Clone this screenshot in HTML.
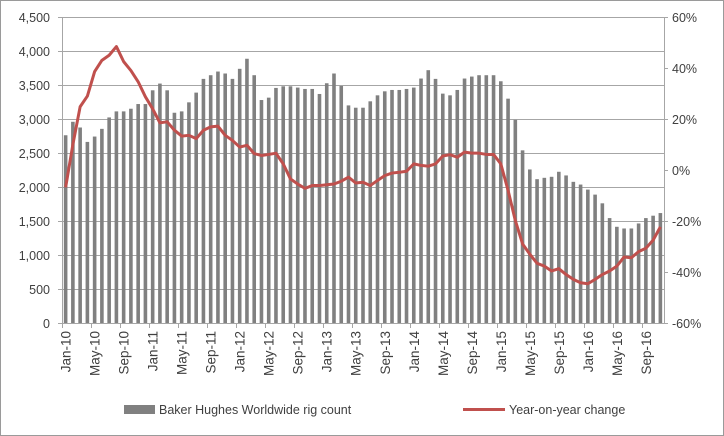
<!DOCTYPE html>
<html><head><meta charset="utf-8"><style>
body{margin:0;background:#fff;}
svg{display:block;font-family:"Liberation Sans",Arial,sans-serif;}
</style></head><body>
<svg id="chart" width="724" height="436" viewBox="0 0 724 436" xmlns="http://www.w3.org/2000/svg">
<rect x="0.5" y="0.5" width="723" height="435" fill="#fff" stroke="#9a9a9a"/>
<g id="grid"></g><g id="bars"></g><g id="axes"></g><g id="line"></g><g id="labels"></g>
<g>
<rect x="124" y="405" width="31" height="9" fill="#808080"/>
<text x="159" y="414" font-size="12.5" fill="#404040">Baker Hughes Worldwide rig count</text>
<line x1="463" y1="409.5" x2="505" y2="409.5" stroke="#c0504d" stroke-width="3"/>
<text x="509" y="414" font-size="12.5" fill="#404040">Year-on-year change</text>
</g>
</svg>
<script>
const startYear = 2010;
const monthNames = ["Jan","Feb","Mar","Apr","May","Jun","Jul","Aug","Sep","Oct","Nov","Dec"];
const rigCount = [2761,2959,2875,2663,2742,2855,3023,3112,3112,3151,3220,3220,
3422,3521,3422,3092,3112,3245,3388,3590,3644,3698,3669,3590,
3738,3886,3644,3279,3314,3457,3481,3481,3462,3442,3442,3368,
3526,3669,3486,3200,3166,3166,3260,3348,3407,3427,3427,3442,
3462,3595,3718,3590,3373,3348,3427,3595,3624,3644,3644,3644,
3555,3299,2988,2539,2258,2115,2135,2150,2224,2170,2076,2036,
1962,1888,1760,1543,1415,1390,1390,1464,1543,1578,1617];
const yoyChange = [-6.8,10,24.8,29,38.6,43,45,48.4,42.5,39,34.6,28.7,
24,18.5,18.9,15.6,13.3,13.6,12.3,15.6,16.9,17.2,13.6,11.6,
9,9.7,6.4,5.7,6.1,6.6,2.4,-3.5,-5.5,-7.2,-6.1,-6.1,
-5.8,-5.5,-4.4,-2.8,-5.1,-4.8,-6.1,-4.1,-2.2,-1.2,-0.9,-0.5,
2.4,1.8,1.5,2.4,5.5,6,5,7,6.6,6.6,6.1,6.1,
2.4,-8,-19.8,-29,-33,-36.6,-37.7,-39.6,-38.7,-41,-42.9,-44.2,
-44.6,-42.9,-41,-39.6,-37.7,-34.1,-34.4,-32,-30.7,-27.5,-22.3];
const leftTicks = [0,500,1000,1500,2000,2500,3000,3500,4000,4500];
const rightTicks = [-60,-40,-20,0,20,40,60];

const NS="http://www.w3.org/2000/svg";
const X0=62,X1=664,Y0=323,Y1=17;
const n=rigCount.length;
const cw=(X1-X0)/n;
const xC=i=>X0+(i+0.5)*cw;
const yL=v=>Y0-(v/4500)*(Y0-Y1);
const yR=v=>Y0-((v+60)/120)*(Y0-Y1);
function mk(tag,attrs,parent){const e=document.createElementNS(NS,tag);for(const k in attrs)e.setAttribute(k,attrs[k]);parent.appendChild(e);return e;}
const grid=document.getElementById('grid'),bars=document.getElementById('bars'),axes=document.getElementById('axes'),line=document.getElementById('line'),labels=document.getElementById('labels');

leftTicks.forEach(t=>{
  const y=Math.round(yL(t))+0.5;
  const g=mk('line',{x1:X0-4,x2:X1,y1:y,y2:y,stroke:'#a6a6a6','stroke-width':1},grid);
  
  
  const tx=mk('text',{x:50,y:y+4.5,'text-anchor':'end','font-size':12.5,fill:'#404040'},labels);
  
  
  tx.textContent=t.toLocaleString('en-US');
});
rightTicks.forEach(t=>{
  const y=Math.round(yR(t))+0.5;
  const tk=mk('line',{x1:X1,x2:X1+4,y1:y,y2:y,stroke:'#a6a6a6'},axes);
  
  
  const tx=mk('text',{x:672,y:y+4.5,'font-size':12.5,fill:'#404040'},labels);
  
  
  tx.textContent=t+'%';
});
rigCount.forEach((v,i)=>{
  const r=mk('rect',{x:xC(i)-1.8,y:yL(v),width:3.6,height:Y0-yL(v),fill:'#808080'},bars);
  
  
});
const al=mk('line',{x1:X0+0.5,x2:X0+0.5,y1:Y1,y2:Y0,stroke:'#a6a6a6'},axes);


const ar=mk('line',{x1:X1+0.5,x2:X1+0.5,y1:Y1,y2:Y0,stroke:'#a6a6a6'},axes);


for(let i=0;i<=n;i+=4){
  const x=Math.round(X0+i*cw)+0.5;
  const tk=mk('line',{x1:x,x2:x,y1:Y0,y2:Y0+5,stroke:'#a6a6a6'},axes);
  
  
}
for(let i=0;i<n;i+=4){
  const m=i%12,yr=startYear+Math.floor(i/12);
  const x=xC(i)+5;
  const tx=mk('text',{x:0,y:0,transform:`translate(${x},331) rotate(-90)`,'text-anchor':'end','font-size':13.5,fill:'#404040'},labels);
  
  
  tx.textContent=monthNames[m]+'-'+String(yr).slice(2);
}
const pts=yoyChange.map((v,i)=>xC(i).toFixed(2)+','+yR(v).toFixed(2)).join(' ');
const pl=mk('polyline',{points:pts,fill:'none',stroke:'#c0504d','stroke-width':3,'stroke-linejoin':'round'},line);


</script>
</body></html>
